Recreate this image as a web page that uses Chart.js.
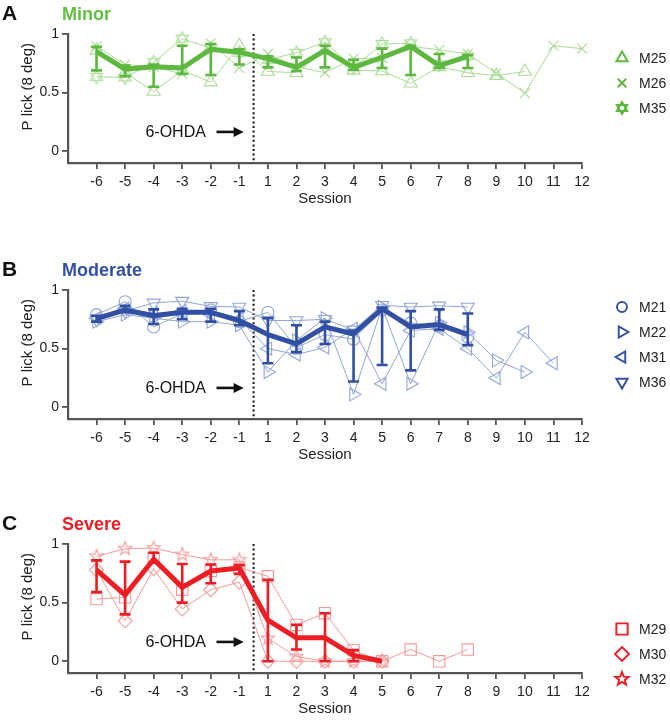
<!DOCTYPE html>
<html><head><meta charset="utf-8">
<script src="https://cdn.jsdelivr.net/npm/chart.js@4.4.1/dist/chart.umd.min.js"></script>
<style>
html,body{margin:0;padding:0;background:#fff;overflow:hidden;}
body{width:670px;height:720px;position:relative;font-family:"Liberation Sans",Arial,Helvetica,sans-serif;}
.panel{position:absolute;left:0;width:670px;height:220px;}
canvas{position:absolute;left:0;top:0;}
.letter{position:absolute;left:2px;top:2px;font-weight:bold;font-size:21px;line-height:21px;color:#111;}
.ttl{position:absolute;left:62px;top:5px;font-weight:bold;font-size:18px;line-height:18px;}
</style></head><body>
<div class="panel" style="top:0px"><canvas id="cA" width="670" height="220"></canvas><div class="letter">A</div><div class="ttl" style="color:#62be45">Minor</div></div>
<div class="panel" style="top:256px"><canvas id="cB" width="670" height="220"></canvas><div class="letter">B</div><div class="ttl" style="color:#3350a5">Moderate</div></div>
<div class="panel" style="top:510px"><canvas id="cC" width="670" height="220"></canvas><div class="letter">C</div><div class="ttl" style="color:#ee1d24">Severe</div></div>
<script>
// ---------- DATA ----------
const sessions = [-6,-5,-4,-3,-2,-1,1,2,3,4,5,6,7,8,9,10,11,12];
const yTicks = [0, 0.5, 1];

// Panel A – Minor
const minorM25 = [0.86,0.67,0.51,0.69,0.59,0.90,0.68,0.67,0.86,0.69,0.685,0.58,0.72,0.67,0.645,0.68,null,null];
const minorM26 = [0.895,0.74,0.72,0.66,0.92,0.71,0.83,0.72,0.67,0.79,0.795,0.895,0.865,0.83,0.665,0.495,0.90,0.875];
const minorM35 = [0.635,0.63,0.76,0.96,0.88,0.84,0.78,0.84,0.93,0.715,0.915,0.92,0.74,0.81,null,null,null,null];
const minorCenter = [0.85,0.70,0.72,0.71,0.87,0.845,0.79,0.715,0.86,0.715,0.80,0.895,0.73,0.81];
const minorLow  = [0.69,0.64,0.55,0.66,0.65,0.74,0.715,0.685,0.715,0.695,0.71,0.65,0.71,0.71];
const minorHigh = [0.89,0.73,0.74,0.90,0.915,0.87,0.81,0.80,0.90,0.78,0.875,0.90,0.83,0.82];

// Panel B – Moderate
const modM21 = [0.79,0.90,0.685,0.80,0.83,0.73,0.81,0.51,0.62,0.58,0.83,0.72,0.69,0.60];
const modM22 = [0.73,0.79,0.76,0.73,0.73,0.70,0.30,0.57,0.76,0.11,0.855,0.20,0.72,0.64,0.40,0.30];
const modM31 = [0.76,0.84,0.80,0.82,0.79,0.75,0.50,0.45,0.51,0.67,0.20,0.655,0.67,0.50,0.25,0.64,0.375];
const modM36 = [0.75,0.82,0.89,0.905,0.86,0.855,0.74,0.74,0.75,0.66,0.87,0.855,0.865,0.855];
const modCenter = [0.755,0.83,0.78,0.81,0.81,0.74,0.62,0.54,0.685,0.625,0.84,0.685,0.705,0.62];
const modLow  = [0.73,0.81,0.71,0.75,0.73,0.70,0.375,0.47,0.54,0.22,0.36,0.315,0.66,0.53];
const modHigh = [0.78,0.865,0.835,0.84,0.84,0.82,0.76,0.70,0.73,0.655,0.85,0.82,0.835,0.80];

// Panel C – Severe
const sevM29 = [0.53,0.545,0.88,0.61,0.77,0.80,0.725,0.31,0.41,0.095,0.0,0.10,0.0,0.10];
const sevM30 = [0.78,0.345,0.79,0.445,0.61,0.675,0.0,0.0,0.0,0.0,0.0];
const sevM32 = [0.895,0.96,0.965,0.91,0.865,0.865,0.195,0.04,0.0,0.0,0.0];
const sevCenter = [0.78,0.565,0.87,0.63,0.77,0.795,0.35,0.20,0.20,0.05,0.0];
const sevLow  = [0.59,0.40,0.84,0.50,0.665,0.745,0.0,0.10,0.0,0.0,0.0];
const sevHigh = [0.86,0.85,0.925,0.83,0.825,0.82,0.695,0.31,0.41,0.095,0.0];

// ---------- HELPERS ----------
const FONT = '"Liberation Sans", Arial, Helvetica, sans-serif';
const toXY = arr => arr.map((v,i)=> v==null?null:{x:i,y:v}).filter(p=>p);
const lesionX = (sessions.indexOf(-1) + sessions.indexOf(1)) / 2;

function markerCanvas(kind, r, color, lw){
  const pad = Math.ceil(lw)+1;
  const s = Math.ceil(2*r+2*pad);
  const c = document.createElement('canvas'); c.width=s; c.height=s;
  const g = c.getContext('2d');
  g.strokeStyle=color; g.lineWidth=lw; g.lineJoin='miter';
  const cx=s/2, cy=s/2;
  g.beginPath();
  if(kind==='hexagram'){
    [-Math.PI/2, Math.PI/2].forEach(off=>{
      for(let k=0;k<3;k++){const a=off+k*2*Math.PI/3;const px=cx+r*Math.cos(a),py=cy+r*Math.sin(a);k?g.lineTo(px,py):g.moveTo(px,py);}
      g.closePath();
    });
  } else {
    for(let k=0;k<10;k++){const a=-Math.PI/2+k*Math.PI/5;const rr=k%2?r*0.42:r;const px=cx+rr*Math.cos(a),py=cy+rr*Math.sin(a);k?g.lineTo(px,py):g.moveTo(px,py);}
    g.closePath();
  }
  g.stroke();
  return c;
}

const errorBarPlugin = {
  id:'errbars',
  afterDatasetsDraw(chart, args, o){
    const {ctx, scales:{x,y}} = chart;
    ctx.save(); ctx.strokeStyle=o.color; ctx.lineWidth=o.width; ctx.lineCap='butt';
    o.low.forEach((lo,i)=>{
      const hi=o.high[i]; if(lo==null||hi==null) return;
      const px=x.getPixelForValue(i), p1=y.getPixelForValue(lo), p2=y.getPixelForValue(hi);
      if(Math.abs(p1-p2)<0.5) return;
      ctx.beginPath();
      ctx.moveTo(px,p1); ctx.lineTo(px,p2);
      ctx.moveTo(px-o.cap,p1); ctx.lineTo(px+o.cap,p1);
      ctx.moveTo(px-o.cap,p2); ctx.lineTo(px+o.cap,p2);
      ctx.stroke();
    });
    ctx.restore();
  }
};

const decorPlugin = {
  id:'decor',
  afterDraw(chart, args, o){
    const {ctx, scales:{x,y}} = chart;
    // y-axis title
    ctx.save();
    ctx.translate(o.yTitleX, y.getPixelForValue(o.yTitleAt));
    ctx.rotate(-Math.PI/2);
    ctx.fillStyle='#222'; ctx.font='15px '+FONT; ctx.textAlign='center'; ctx.textBaseline='middle';
    ctx.fillText('P lick (8 deg)',0,0);
    ctx.restore();
    // annotation
    const ay = y.getPixelForValue(o.annY);
    ctx.save();
    ctx.fillStyle='#111'; ctx.font='16px '+FONT; ctx.textAlign='center'; ctx.textBaseline='middle';
    ctx.fillText('6-OHDA', x.getPixelForValue(o.annTextX), ay+1);
    const a0=x.getPixelForValue(o.arrowFrom), a1=x.getPixelForValue(o.arrowTo);
    ctx.strokeStyle='#111'; ctx.lineWidth=2.6;
    ctx.beginPath(); ctx.moveTo(a0,ay); ctx.lineTo(a1-8,ay); ctx.stroke();
    ctx.beginPath(); ctx.moveTo(a1,ay); ctx.lineTo(a1-10,ay-5); ctx.lineTo(a1-10,ay+5); ctx.closePath(); ctx.fill();
    ctx.restore();
    // legend
    o.items.forEach((it,j)=>{
      const ly = o.top + j*o.gap;
      ctx.save();
      ctx.strokeStyle=o.color; ctx.fillStyle='rgba(0,0,0,0)'; ctx.lineWidth=1.9;
      Chart.helpers.drawPoint(ctx,{pointStyle:it.style, rotation:it.rotation||0, radius:it.radius, borderWidth:1.9}, o.markerX, ly);
      ctx.restore();
      ctx.save();
      ctx.fillStyle='#222'; ctx.font='14px '+FONT; ctx.textAlign='left'; ctx.textBaseline='middle';
      ctx.fillText(it.label, o.textX, ly+1);
      ctx.restore();
    });
  }
};

function buildPanel(id, p){
  const datasets = [];
  datasets.push({data:toXY(p.center), borderColor:p.dark, borderWidth:5, pointRadius:0, tension:0, clip:false, borderJoinStyle:'round'});
  p.series.forEach(s=>{
    datasets.push({label:s.label, data:toXY(s.values), borderColor:p.light, borderWidth:1, tension:0, clip:false,
      pointStyle:s.style, pointRotation:s.rotation||0, pointRadius:s.radius, pointBorderColor:p.light,
      pointBackgroundColor:'rgba(0,0,0,0)', pointBorderWidth:1.1});
  });
  datasets.push({data:[{x:lesionX,y:1},{x:lesionX,y:-0.1}], borderColor:'#111', borderWidth:2, borderDash:[2,2.6], pointRadius:0, clip:false});
  new Chart(document.getElementById(id), {
    type:'line',
    data:{datasets},
    plugins:[errorBarPlugin, decorPlugin],
    options:{
      responsive:false, animation:false, events:[],
      layout:{padding:{left:0,top:34,right:88,bottom:0}},
      plugins:{
        legend:{display:false}, tooltip:{enabled:false},
        errbars:{low:p.low, high:p.high, color:p.dark, width:2.6, cap:5.5},
        decor:{yTitleX:28, yTitleAt:0.55, annY:0.165, annTextX:2.77, arrowFrom:4.2, arrowTo:5.15,
          items:p.legend, color:p.dark, top:p.legendTop, gap:25, markerX:622, textX:639}
      },
      scales:{
        x:{type:'linear', min:-1, max:17,
          afterBuildTicks:sc=>{sc.ticks=sessions.map((s,i)=>({value:i}));},
          afterFit:sc=>{sc.height=57;},
          ticks:{callback:v=>sessions[v], autoSkip:false, maxRotation:0, padding:5, color:'#222', font:{family:FONT,size:14}},
          grid:{drawOnChartArea:false, drawTicks:true, tickLength:6, color:'#555', lineWidth:1.8},
          border:{display:true, color:'#555', width:2.2},
          title:{display:true, text:'Session', color:'#222', font:{family:FONT,size:15}, padding:{top:0,bottom:12}}
        },
        y:{type:'linear', min:-0.1, max:1,
          afterBuildTicks:sc=>{sc.ticks=yTicks.map(v=>({value:v}));},
          afterFit:sc=>{sc.width=68;},
          ticks:{callback:v=>String(v), padding:3, color:'#222', font:{family:FONT,size:14}},
          grid:{drawOnChartArea:false, drawTicks:true, tickLength:6, color:'#555', lineWidth:1.8},
          border:{display:true, color:'#555', width:2.2}
        }
      }
    }
  });
}

const gLight='#a9dc95', gDark='#5cb83e';
const bLight='#91a5dc', bDark='#3150a4';
const rLight='#f59a9a', rDark='#ee1d24';

buildPanel('cA', {
  dark:gDark, light:gLight, center:minorCenter, low:minorLow, high:minorHigh, legendTop:58,
  series:[
    {label:'M25', values:minorM25, style:'triangle', radius:7.5},
    {label:'M26', values:minorM26, style:'crossRot', radius:7},
    {label:'M35', values:minorM35, style:markerCanvas('hexagram',7,gLight,1.1)}
  ].map(s=>Object.assign({radius:7},s)),
  legend:[
    {label:'M25', style:'triangle', radius:6.5},
    {label:'M26', style:'crossRot', radius:6},
    {label:'M35', style:markerCanvas('hexagram',6,gDark,1.9), radius:6}
  ]
});

buildPanel('cB', {
  dark:bDark, light:bLight, center:modCenter, low:modLow, high:modHigh, legendTop:51,
  series:[
    {label:'M21', values:modM21, style:'circle', radius:6},
    {label:'M22', values:modM22, style:'triangle', rotation:90, radius:7.5},
    {label:'M31', values:modM31, style:'triangle', rotation:270, radius:7.5},
    {label:'M36', values:modM36, style:'triangle', rotation:180, radius:7.5}
  ],
  legend:[
    {label:'M21', style:'circle', radius:5},
    {label:'M22', style:'triangle', rotation:90, radius:6.5},
    {label:'M31', style:'triangle', rotation:270, radius:6.5},
    {label:'M36', style:'triangle', rotation:180, radius:6.5}
  ]
});

buildPanel('cC', {
  dark:rDark, light:rLight, center:sevCenter, low:sevLow, high:sevHigh, legendTop:119,
  series:[
    {label:'M29', values:sevM29, style:'rect', radius:8},
    {label:'M30', values:sevM30, style:'rectRot', radius:7},
    {label:'M32', values:sevM32, style:markerCanvas('star5',7,rLight,1.1), radius:7}
  ],
  legend:[
    {label:'M29', style:'rect', radius:8},
    {label:'M30', style:'rectRot', radius:7},
    {label:'M32', style:markerCanvas('star5',7,rDark,1.9), radius:7}
  ]
});
</script>
</body></html>
